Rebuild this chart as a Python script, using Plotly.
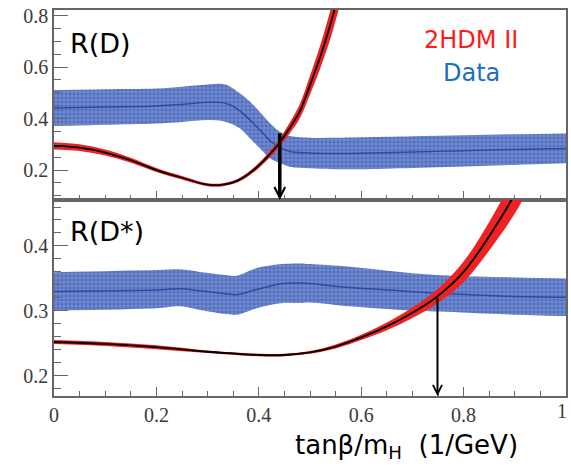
import plotly.graph_objects as go

# ---------------- data ----------------
# Top panel R(D): measured band (Data)
rd_x = [0, 0.1, 0.2, 0.25, 0.3, 0.33, 0.345, 0.363, 0.383, 0.402, 0.422, 0.441, 0.461, 0.5, 0.55, 0.6, 0.7, 0.8, 0.9, 1.0]
rd_hi = [0.511, 0.514, 0.517, 0.524, 0.532, 0.534, 0.523, 0.498, 0.465, 0.426, 0.382, 0.349, 0.332, 0.325, 0.325, 0.327, 0.331, 0.335, 0.339, 0.342]
rd_lo = [0.371, 0.376, 0.381, 0.387, 0.394, 0.390, 0.381, 0.362, 0.323, 0.285, 0.246, 0.227, 0.213, 0.207, 0.203, 0.203, 0.208, 0.214, 0.220, 0.226]
rd_mid = [0.441, 0.445, 0.449, 0.455, 0.463, 0.462, 0.452, 0.430, 0.394, 0.356, 0.314, 0.288, 0.272, 0.266, 0.264, 0.265, 0.270, 0.275, 0.280, 0.284]

# Top panel R(D): 2HDM II prediction
th_d_x = [0, 0.05, 0.1, 0.15, 0.2, 0.25, 0.3, 0.33, 0.36, 0.39, 0.42, 0.44, 0.46, 0.48, 0.5, 0.52, 0.54, 0.55, 0.57]
th_d_y = [0.294, 0.287, 0.268, 0.238, 0.200, 0.170, 0.143, 0.143, 0.160, 0.200, 0.258, 0.305, 0.362, 0.428, 0.530, 0.640, 0.767, 0.840, 1.0]
th_d_err = [0.014, 0.013, 0.012, 0.010, 0.008, 0.007, 0.006, 0.006, 0.007, 0.009, 0.012, 0.016, 0.021, 0.028, 0.036, 0.045, 0.055, 0.060, 0.070]

# Bottom panel R(D*): measured band (Data)
rds_x = [0, 0.2, 0.246, 0.285, 0.338, 0.357, 0.396, 0.447, 0.48, 0.5, 0.578, 0.676, 0.754, 0.871, 1.0]
rds_hi = [0.3595, 0.363, 0.364, 0.360, 0.355, 0.354, 0.366, 0.372, 0.373, 0.372, 0.368, 0.360, 0.355, 0.352, 0.350]
rds_lo = [0.3005, 0.304, 0.307, 0.3015, 0.295, 0.294, 0.304, 0.312, 0.312, 0.313, 0.307, 0.3015, 0.299, 0.295, 0.292]
rds_mid = [0.330, 0.332, 0.334, 0.331, 0.326, 0.325, 0.333, 0.342, 0.343, 0.342, 0.336, 0.331, 0.327, 0.323, 0.321]

# Bottom panel R(D*): 2HDM II prediction
th_ds_x = [0, 0.1, 0.2, 0.3, 0.4, 0.45, 0.5, 0.55, 0.6, 0.65, 0.7, 0.75, 0.8, 0.85, 0.9, 0.95]
th_ds_y = [0.252, 0.249, 0.244, 0.237, 0.232, 0.232, 0.236, 0.245, 0.259, 0.276, 0.297, 0.323, 0.360, 0.415, 0.480, 0.56]
th_ds_err = [0.003, 0.003, 0.003, 0.002, 0.002, 0.002, 0.002, 0.003, 0.004, 0.006, 0.008, 0.011, 0.016, 0.022, 0.030, 0.038]

x_ticks = [0, 0.2, 0.4, 0.6, 0.8, 1]
x_ticklabels = ["0", "0.2", "0.4", "0.6", "0.8", ""]   # the "1" is drawn separately (it sits at the page edge)
top_yticks = [0.2, 0.4, 0.6, 0.8]
bot_yticks = [0.2, 0.3, 0.4]

# ---------------- styling ----------------
BLUE_BG = "#5270bf"
BLUE_LINE = "rgba(40,70,160,0.9)"
RED = "#ee2222"
AXC = "#666666"
TICKFONT = dict(family="Liberation Serif", size=20, color="#3a3a3a")

fig = go.Figure()


def band(x, lo, hi, xa, ya, color, pattern=None):
    fig.add_trace(go.Scatter(x=x, y=lo, mode="lines", line=dict(width=0, color=color, shape="spline"),
                             xaxis=xa, yaxis=ya, showlegend=False, hoverinfo="skip"))
    kw = {}
    if pattern:
        kw["fillpattern"] = pattern
    fig.add_trace(go.Scatter(x=x, y=hi, mode="lines", line=dict(width=0, color=color, shape="spline"),
                             fill="tonexty", fillcolor=color, xaxis=xa, yaxis=ya,
                             showlegend=False, hoverinfo="skip", **kw))


pat = dict(shape="+", bgcolor=BLUE_BG, fgcolor="#c3cdec", size=4, solidity=0.3)

# top panel
band(rd_x, rd_lo, rd_hi, "x", "y", BLUE_BG, pat)
fig.add_trace(go.Scatter(x=rd_x, y=rd_mid, mode="lines", line=dict(color=BLUE_LINE, width=1.5, shape="spline"),
                         xaxis="x", yaxis="y", showlegend=False))
band(th_d_x, [a - b for a, b in zip(th_d_y, th_d_err)], [a + b for a, b in zip(th_d_y, th_d_err)], "x", "y", RED)
fig.add_trace(go.Scatter(x=th_d_x, y=th_d_y, mode="lines", line=dict(color="black", width=1.8, shape="spline"),
                         xaxis="x", yaxis="y", showlegend=False))

# bottom panel
band(rds_x, rds_lo, rds_hi, "x2", "y2", BLUE_BG, pat)
fig.add_trace(go.Scatter(x=rds_x, y=rds_mid, mode="lines", line=dict(color=BLUE_LINE, width=1.5, shape="spline"),
                         xaxis="x2", yaxis="y2", showlegend=False))
band(th_ds_x, [a - b for a, b in zip(th_ds_y, th_ds_err)], [a + b for a, b in zip(th_ds_y, th_ds_err)], "x2", "y2", RED)
fig.add_trace(go.Scatter(x=th_ds_x, y=th_ds_y, mode="lines", line=dict(color="black", width=1.8, shape="spline"),
                         xaxis="x2", yaxis="y2", showlegend=False))

SPLIT = 196 / 386

common_x = dict(range=[0, 1], showgrid=False, zeroline=False, showline=True, linecolor=AXC, linewidth=1.5,
                mirror=True, ticks="inside", tickcolor=AXC, ticklen=9, tickwidth=1.2,
                tickvals=x_ticks, ticktext=x_ticklabels, ticklabeloverflow="allow",
                minor=dict(ticks="inside", ticklen=5, dtick=0.05, tickcolor=AXC, tickwidth=1.2, showgrid=False),
                tickfont=TICKFONT)

fig.update_layout(
    width=571, height=470,
    margin=dict(l=54, r=5, t=10, b=74, autoexpand=False),
    paper_bgcolor="white", plot_bgcolor="white",
    xaxis=dict(common_x, anchor="y", domain=[0, 1], showticklabels=False),
    yaxis=dict(domain=[SPLIT, 1], anchor="x", range=[0.0835, 0.822], showgrid=False, zeroline=False,
               showline=True, linecolor=AXC, linewidth=1.5, mirror=True, ticks="inside", ticklen=14,
               tickcolor=AXC, tickwidth=1.2, tickvals=top_yticks, ticktext=[f"{v:.1f}" for v in top_yticks],
               ticklabeloverflow="allow",
               minor=dict(ticks="inside", ticklen=7, dtick=0.05, tickcolor=AXC, tickwidth=1.2, showgrid=False),
               tickfont=TICKFONT),
    xaxis2=dict(common_x, anchor="y2", domain=[0, 1]),
    yaxis2=dict(domain=[0, SPLIT], anchor="x2", range=[0.1688, 0.4708], showgrid=False, zeroline=False,
                showline=True, linecolor=AXC, linewidth=1.5, mirror=True, ticks="inside", ticklen=14,
                tickcolor=AXC, tickwidth=1.2, tickvals=bot_yticks, ticktext=[f"{v:.1f}" for v in bot_yticks],
                ticklabeloverflow="allow",
                minor=dict(ticks="inside", ticklen=7, dtick=0.02, tickcolor=AXC, tickwidth=1.2, showgrid=False),
                tickfont=TICKFONT),
    showlegend=False,
)

SANS = "DejaVu Sans"
ann = [
    dict(text="R(D)", x=0.027, y=0.912, xanchor="left", yanchor="middle", font=dict(family=SANS, size=27, color="black")),
    dict(text="R(D*)", x=0.027, y=0.425, xanchor="left", yanchor="middle", font=dict(family=SANS, size=27, color="black")),
    dict(text="2HDM II", x=0.8145, y=0.922, xanchor="center", yanchor="middle", font=dict(family=SANS, size=24, color="#ff1a1a")),
    dict(text="Data", x=0.816, y=0.837, xanchor="center", yanchor="middle", font=dict(family=SANS, size=24, color="#1a6ec8")),
    dict(text="tanβ/m<sub>H</sub>  (1/GeV)", x=0.689, y=-0.13, xanchor="center", yanchor="middle",
         font=dict(family=SANS, size=26, color="black")),
    dict(text="1", x=0.992, y=-0.038, xanchor="center", yanchor="middle", font=TICKFONT),
]
for a in ann:
    a.update(xref="paper", yref="paper", showarrow=False)
    fig.add_annotation(**a)

# arrows
fig.add_annotation(x=0.441, y=0.0835, ax=0.441, ay=0.349, xref="x", yref="y", axref="x", ayref="y",
                   text="", showarrow=True, arrowhead=5, arrowwidth=3.5, arrowsize=0.6, arrowcolor="black", standoff=0)
fig.add_annotation(x=0.749, y=0.1688, ax=0.749, ay=0.322, xref="x2", yref="y2", axref="x2", ayref="y2",
                   text="", showarrow=True, arrowhead=5, arrowwidth=2, arrowsize=0.9, arrowcolor="black", standoff=0)

# remove the browser's default 8px page margin so the 571x470 figure fills the window exactly
fig.write_html("out.html", config={"displayModeBar": False},
               post_script="document.body.style.margin='0px';")
